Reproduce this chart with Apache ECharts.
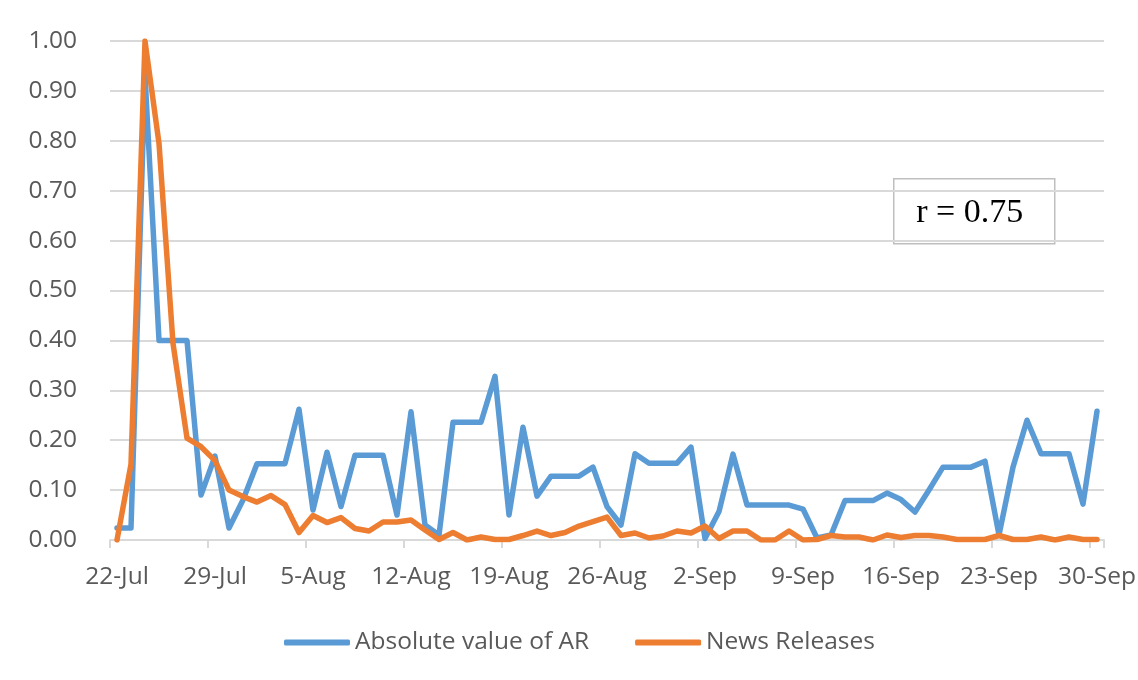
<!DOCTYPE html>
<html>
<head>
<meta charset="utf-8">
<title>Absolute AR vs News Releases</title>
<script src="https://cdn.jsdelivr.net/npm/echarts@6/dist/echarts.min.js"></script>
<style>
  html, body { margin: 0; padding: 0; background: #ffffff; }
  #chart { width: 1138px; height: 680px; }
</style>
</head>
<body>
<div id="chart"></div>
<script>
// Daily observations, 22-Jul through 30-Sep (71 days)
const startDate = { year: 2014, month: 6, day: 22 };
const dayCount = 71;
const monthNames = ['Jan','Feb','Mar','Apr','May','Jun','Jul','Aug','Sep','Oct','Nov','Dec'];

const categories = [];
for (let i = 0; i < dayCount; i++) {
  const d = new Date(Date.UTC(startDate.year, startDate.month, startDate.day + i));
  categories.push(d.getUTCDate() + '-' + monthNames[d.getUTCMonth()]);
}

// Normalised absolute abnormal return
const absAR = [
  0.024, 0.024, 0.93, 0.40, 0.40, 0.40, 0.090, 0.168, 0.024, 0.080,
  0.153, 0.153, 0.153, 0.262, 0.060, 0.176, 0.067, 0.170, 0.170, 0.170,
  0.050, 0.257, 0.030, 0.010, 0.236, 0.236, 0.236, 0.328, 0.050, 0.226,
  0.088, 0.128, 0.128, 0.128, 0.146, 0.067, 0.030, 0.173, 0.154, 0.154,
  0.154, 0.186, 0.003, 0.057, 0.172, 0.070, 0.070, 0.070, 0.070, 0.062,
  0.004, 0.010, 0.079, 0.079, 0.079, 0.094, 0.081, 0.056, 0.100, 0.146,
  0.146, 0.146, 0.158, 0.010, 0.146, 0.240, 0.173, 0.173, 0.173, 0.072,
  0.258
];

// Normalised count of news releases
const newsReleases = [
  0.000, 0.152, 1.000, 0.795, 0.394, 0.204, 0.187, 0.159, 0.100, 0.087,
  0.076, 0.089, 0.071, 0.015, 0.049, 0.035, 0.045, 0.023, 0.018, 0.036,
  0.036, 0.040, 0.020, 0.001, 0.015, 0.000, 0.006, 0.001, 0.001, 0.009,
  0.018, 0.009, 0.015, 0.028, 0.037, 0.046, 0.009, 0.014, 0.004, 0.008,
  0.018, 0.014, 0.028, 0.003, 0.018, 0.018, 0.000, 0.000, 0.018, 0.000,
  0.001, 0.009, 0.006, 0.006, 0.000, 0.010, 0.005, 0.009, 0.009, 0.006,
  0.001, 0.001, 0.001, 0.009, 0.001, 0.001, 0.006, 0.000, 0.006, 0.001,
  0.001
];

const seriesNames = ['Absolute value of AR', 'News Releases'];
const seriesColors = ['#5B9BD5', '#ED7D31'];
const correlationText = 'r = 0.75';

const labelFont = '"Open Sans", "Noto Sans", sans-serif';
const gridColor = '#d9d9d9';
const textColor = '#595959';

const chart = echarts.init(document.getElementById('chart'), null, { renderer: 'canvas' });

chart.setOption({
  animation: false,
  backgroundColor: '#ffffff',
  grid: {
    left: 110, right: 34, top: 41, bottom: 140,
    containLabel: false,
    outerBoundsMode: 'none'
  },
  legend: {
    data: seriesNames,
    left: 279,
    top: 625,
    icon: 'roundRect',
    itemWidth: 66,
    itemHeight: 6,
    itemGap: 46,
    textStyle: { fontFamily: labelFont, fontSize: 24.5, color: textColor }
  },
  xAxis: {
    type: 'category',
    data: categories,
    boundaryGap: true,
    axisLine: { show: true, lineStyle: { color: gridColor, width: 2 } },
    axisTick: {
      show: true, interval: 6, alignWithLabel: false, length: 8,
      lineStyle: { color: gridColor, width: 2 }
    },
    axisLabel: {
      interval: 6,
      margin: 25,
      fontFamily: labelFont,
      fontSize: 24.5,
      color: textColor
    },
    splitLine: { show: false }
  },
  yAxis: {
    type: 'value',
    min: 0,
    max: 1,
    interval: 0.1,
    axisLine: { show: false },
    axisTick: { show: false },
    axisLabel: {
      margin: 33,
      fontFamily: labelFont,
      fontSize: 24.5,
      color: textColor,
      formatter: v => v.toFixed(2)
    },
    splitLine: { show: true, lineStyle: { color: gridColor, width: 2 } }
  },
  series: [
    {
      name: seriesNames[0],
      type: 'line',
      data: absAR,
      symbol: 'none',
      color: seriesColors[0],
      lineStyle: { width: 5.5, color: seriesColors[0], join: 'round', cap: 'round' }
    },
    {
      name: seriesNames[1],
      type: 'line',
      data: newsReleases,
      symbol: 'none',
      color: seriesColors[1],
      lineStyle: { width: 5.5, color: seriesColors[1], join: 'round', cap: 'round' }
    }
  ],
  graphic: [
    {
      type: 'group',
      left: 893,
      top: 178,
      z: 100,
      children: [
        {
          type: 'rect',
          shape: { x: 0, y: 0, width: 161, height: 65 },
          style: { fill: '#ffffff', stroke: '#bfbfbf', lineWidth: 1.5 }
        },
        {
          type: 'text',
          x: 76,
          y: 34,
          style: {
            text: correlationText,
            font: '34px "Liberation Serif", "DejaVu Serif", serif',
            fill: '#000000',
            textAlign: 'center',
            textVerticalAlign: 'middle'
          }
        }
      ]
    }
  ]
});
</script>
</body>
</html>
